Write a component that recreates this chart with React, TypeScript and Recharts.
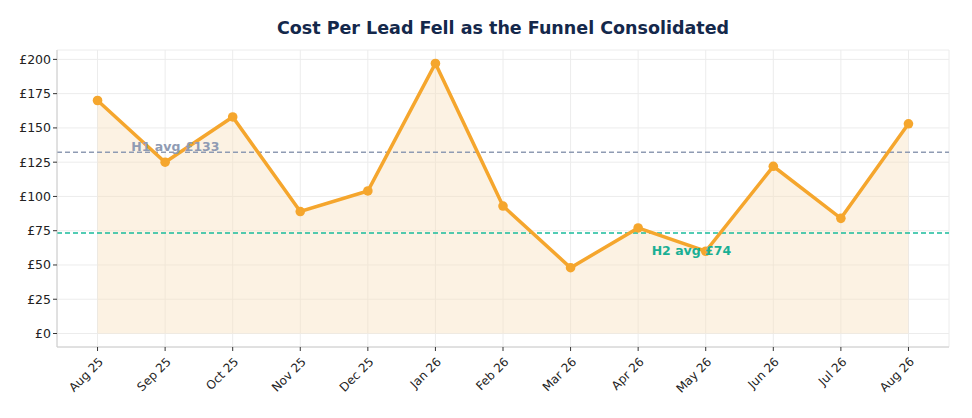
import React from "react";
import {
    ComposedChart,
    Area,
    Line,
    XAxis,
    YAxis,
    CartesianGrid,
    ReferenceLine,
    ReferenceDot,
} from "recharts";

const months = [
    "Aug 25", "Sep 25", "Oct 25", "Nov 25", "Dec 25", "Jan 26", "Feb 26",
    "Mar 26", "Apr 26", "May 26", "Jun 26", "Jul 26", "Aug 26",
];
const costPerLead = [170, 125, 158, 89, 104, 197, 93, 48, 77, 60, 122, 84, 153];
const yTicks = [0, 25, 50, 75, 100, 125, 150, 175, 200];
const h1Avg = 132.3;
const h2Avg = 73.3;

const font = "DejaVu Sans, sans-serif";
const orange = "#f5a62d";

const data = costPerLead.map((v, i) => ({ idx: i, cpl: v }));
const xTicks = months.map((_, i) => i);

function MonthTick(props: any) {
    const { x, y, payload } = props;
    return (
        <text
            x={x + 4}
            y={y + 7}
            transform={`rotate(-45 ${x + 4} ${y + 7})`}
            textAnchor="end"
            dominantBaseline="middle"
            fontSize={12}
            fontFamily={font}
            fill="#222"
        >
            {months[payload.value]}
        </text>
    );
}

function labelShape(text: string, color: string) {
    return (props: any) => (
        <text
            x={props.cx}
            y={props.cy}
            dominantBaseline="middle"
            fontSize={12.5}
            fontWeight="bold"
            fontFamily={font}
            fill={color}
        >
            {text}
        </text>
    );
}

export default function App() {
    return (
        <div style={{ position: "absolute", left: 0, top: 0, width: 972, height: 418, background: "#fff" }}>
            <div
                style={{
                    position: "absolute",
                    left: 57,
                    width: 892,
                    top: 18,
                    textAlign: "center",
                    fontFamily: font,
                    fontWeight: "bold",
                    fontSize: 17.5,
                    color: "#14284b",
                }}
            >
                Cost Per Lead Fell as the Funnel Consolidated
            </div>
            <ComposedChart
                width={972}
                height={418}
                data={data}
                margin={{ top: 50, right: 23, bottom: 11, left: 0 }}
            >
                <CartesianGrid stroke="#ececec" strokeWidth={1} />
                <XAxis
                    dataKey="idx"
                    type="number"
                    domain={[-0.6, 12.6]}
                    ticks={xTicks}
                    interval={0}
                    height={60}
                    tick={<MonthTick />}
                    tickSize={4}
                    tickLine={{ stroke: "#333" }}
                    axisLine={{ stroke: "#ccc" }}
                />
                <YAxis
                    type="number"
                    domain={[-9.85, 206.85]}
                    ticks={yTicks}
                    width={57}
                    tickSize={4}
                    tickLine={{ stroke: "#333" }}
                    axisLine={{ stroke: "#ccc" }}
                    tickFormatter={(v) => `£${v}`}
                    tick={{ fontSize: 12.5, fontFamily: font, fill: "#222" }}
                />
                <Area
                    type="linear"
                    dataKey="cpl"
                    stroke="none"
                    fill="#f9e1bd"
                    fillOpacity={0.42}
                    baseValue={0}
                    dot={false}
                    activeDot={false}
                    isAnimationActive={false}
                />
                <ReferenceLine y={h1Avg} stroke="#8f9bb3" strokeWidth={1.5} strokeDasharray="5 3" />
                <ReferenceLine y={h2Avg} stroke="#1abc9c" strokeWidth={1.5} strokeDasharray="5 3" />
                <Line
                    type="linear"
                    dataKey="cpl"
                    stroke={orange}
                    strokeWidth={3.5}
                    dot={{ r: 4.8, fill: orange, stroke: orange, strokeWidth: 0 }}
                    activeDot={false}
                    isAnimationActive={false}
                />
                <ReferenceDot x={0.5} y={136} shape={labelShape("H1 avg £133", "#8f9bb3")} />
                <ReferenceDot x={8.2} y={60} shape={labelShape("H2 avg £74", "#1aaf94")} />
            </ComposedChart>
        </div>
    );
}
